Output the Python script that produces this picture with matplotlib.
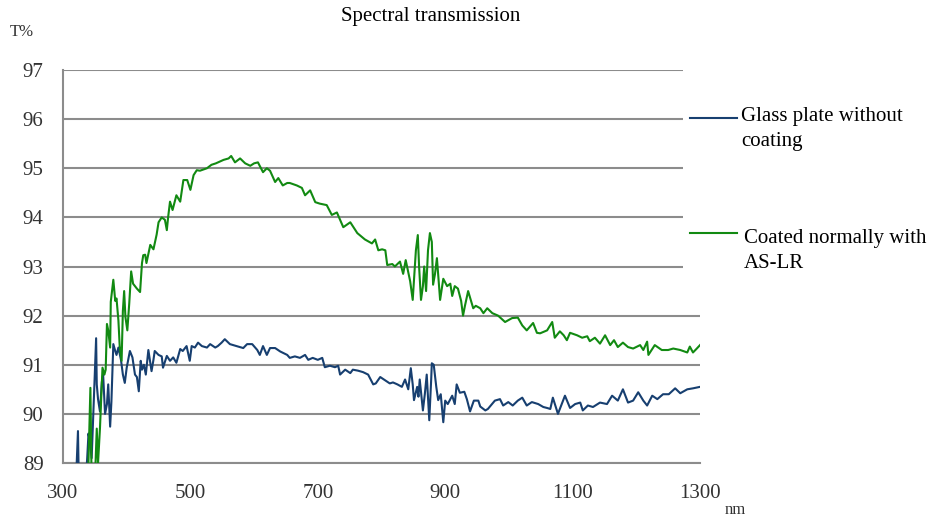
import matplotlib
matplotlib.use("Agg")
import matplotlib.pyplot as plt
from matplotlib.lines import Line2D
from matplotlib.patches import Rectangle

plt.rcParams['font.family'] = ['Liberation Serif', 'DejaVu Serif']

title = "Spectral transmission"
y_label = "T%"
x_label = "nm"
series_names = ["Glass plate without\ncoating", "Coated normally with\nAS-LR"]
x_ticks = [300, 500, 700, 900, 1100, 1300]
y_ticks = [89, 90, 91, 92, 93, 94, 95, 96, 97]

glass_nm = [320, 323.5, 325, 336, 338, 340, 342, 345, 349, 352, 353, 355, 358, 361, 363,
            366, 369, 371, 374, 376, 379, 382, 384, 387, 391, 394, 397, 400, 405, 409,
            413, 416, 419, 422, 424, 427, 430, 434, 439, 442, 444, 450, 455, 457, 463,
            468, 473, 478, 484, 488, 494, 499, 502, 507, 512, 518, 526, 531, 539, 543,
            549, 554, 562, 567, 575, 583, 589, 597, 605, 609, 614, 620, 625, 633, 641,
            652, 656, 664, 672, 680, 685, 692, 700, 707, 711, 719, 727, 732, 735, 743,
            751, 755, 763, 771, 779, 787, 791, 798, 806, 813, 818, 825, 832, 837, 842,
            846, 849, 851, 856, 858, 860, 865, 868, 871, 875, 878, 879, 882, 886, 889,
            893, 897, 900, 904, 911, 915, 918, 923, 930, 934, 939, 945, 952, 955, 963,
            967, 978, 986, 991, 999, 1006, 1014, 1021, 1028, 1036, 1046, 1054, 1060, 1065,
            1069, 1077, 1083, 1088, 1096, 1104, 1112, 1116, 1124, 1132, 1143, 1154, 1162,
            1171, 1179, 1187, 1195, 1203, 1211, 1217, 1225, 1233, 1242, 1251, 1261, 1269,
            1280, 1289, 1300]
glass_T = [88.5, 89.65, 88.5, 88.7, 89.1, 89.6, 89.45, 89.1, 90.5, 91.54, 90.6, 90.3, 90.05, 90.65, 90.8,
           90.0, 90.2, 90.6, 89.74, 90.25, 91.42, 91.28, 91.2, 91.35, 91.1, 90.8, 90.63, 90.94, 91.28, 91.15,
           90.8, 90.75, 90.46, 91.08, 90.9, 91.0, 90.8, 91.3, 90.87, 91.1, 91.28, 91.2, 91.17, 90.94, 91.18,
           91.08, 91.15, 91.04, 91.32, 91.28, 91.38, 91.08, 91.38, 91.35, 91.45, 91.38, 91.35, 91.42, 91.35, 91.38,
           91.45, 91.52, 91.42, 91.4, 91.37, 91.34, 91.42, 91.42, 91.3, 91.2, 91.38, 91.2, 91.34, 91.34, 91.27,
           91.2, 91.14, 91.17, 91.14, 91.2, 91.1, 91.14, 91.1, 91.14, 90.95, 90.98, 90.95, 90.98, 90.8, 90.9,
           90.83, 90.9, 90.88, 90.85, 90.8, 90.6, 90.62, 90.75, 90.68, 90.62, 90.64, 90.6, 90.55, 90.7, 90.5,
           90.93, 90.6, 90.28, 90.55, 90.35, 90.7, 90.07, 90.4, 90.8, 89.87, 90.7, 91.03, 91.0, 90.55, 90.28,
           90.4, 89.83, 90.27, 90.2, 90.37, 90.2, 90.6, 90.43, 90.45, 90.3, 90.05, 90.27, 90.27, 90.15, 90.07,
           90.1, 90.27, 90.3, 90.17, 90.24, 90.17, 90.27, 90.33, 90.17, 90.24, 90.2, 90.14, 90.12, 90.1,
           90.33, 90.0, 90.2, 90.37, 90.12, 90.2, 90.23, 90.07, 90.17, 90.14, 90.23, 90.2, 90.37,
           90.27, 90.5, 90.23, 90.27, 90.44, 90.27, 90.17, 90.37, 90.3, 90.4, 90.4, 90.52, 90.42,
           90.5, 90.52, 90.55]

coated_nm = [339, 343, 345, 350, 353, 355, 358, 361, 362, 365, 367, 369, 371, 374, 375,
             379, 382, 384, 387, 389, 392, 394, 396, 398, 401, 404, 407, 410, 416, 421,
             424, 426, 429, 431, 437, 442, 447, 450, 455, 460, 463, 465, 468, 472, 478,
             484, 489, 495, 500, 505, 510, 515, 526, 533, 540, 552, 560, 564, 570, 578,
             586, 594, 600, 606, 614, 620, 625, 633, 638, 645, 652, 656, 667, 675, 680,
             688, 696, 703, 714, 722, 730, 740, 751, 762, 774, 785, 790, 795, 801, 806,
             809, 817, 821, 829, 834, 838, 845, 849, 854, 857, 859, 862, 865, 867, 870,
             873, 876, 879, 881, 884, 887, 892, 897, 903, 908, 911, 915, 920, 925, 928,
             931, 936, 944, 948, 955, 960, 966, 974, 983, 994, 1005, 1014, 1021, 1028,
             1038, 1044, 1049, 1060, 1068, 1072, 1080, 1086, 1091, 1096, 1107, 1115, 1123,
             1127, 1135, 1143, 1151, 1159, 1165, 1171, 1179, 1187, 1195, 1206, 1211, 1217,
             1219, 1229, 1240, 1250, 1258, 1269, 1280, 1284, 1289, 1295, 1300]
coated_T = [88.5, 90.53, 88.6, 88.6, 89.7, 89.0, 89.7, 90.6, 90.94, 90.8, 90.9, 91.83, 91.7, 91.35, 92.28,
            92.73, 92.3, 92.35, 91.9, 91.38, 91.08, 92.1, 92.5, 91.97, 91.7, 92.25, 92.9, 92.65, 92.55, 92.48,
            93.07, 93.23, 93.24, 93.07, 93.44, 93.35, 93.65, 93.9, 94.0, 93.95, 93.74, 94.0, 94.32, 94.15, 94.45,
            94.32, 94.76, 94.76, 94.56, 94.86, 94.96, 94.95, 95.0, 95.07, 95.1, 95.17, 95.2, 95.25, 95.12, 95.2,
            95.1, 95.05, 95.1, 95.12, 94.92, 95.0, 94.95, 94.72, 94.8, 94.65, 94.7, 94.7, 94.65, 94.6, 94.45,
            94.55, 94.31, 94.28, 94.25, 94.05, 94.1, 93.8, 93.9, 93.68, 93.55, 93.47, 93.55, 93.33, 93.35, 93.33,
            93.03, 93.05, 93.0, 93.1, 92.85, 93.13, 92.7, 92.32, 93.33, 93.64, 93.0, 92.32, 92.6, 93.0, 92.5,
            93.33, 93.68, 93.5, 92.63, 92.85, 93.17, 92.32, 92.75, 92.6, 92.65, 92.4, 92.6, 92.55, 92.3, 92.0,
            92.2, 92.5, 92.15, 92.2, 92.15, 92.05, 92.15, 92.05, 92.0, 91.87, 91.95, 91.96, 91.8, 91.7,
            91.85, 91.65, 91.64, 91.7, 91.87, 91.55, 91.68, 91.6, 91.5, 91.65, 91.6, 91.55, 91.58,
            91.48, 91.55, 91.43, 91.6, 91.4, 91.5, 91.36, 91.45, 91.36, 91.33, 91.4, 91.3, 91.47,
            91.2, 91.4, 91.3, 91.3, 91.33, 91.3, 91.25, 91.37, 91.25, 91.33, 91.4]

blue = "#173F70"
green = "#128A12"
grid_col = "#8C8C8C"
text_col = "#333333"

fig = plt.figure(figsize=(9.31, 5.17), dpi=100)
ax = fig.add_axes([63 / 931, 1 - 463 / 517, (700 - 63) / 931, (463 - 70) / 517])

ax.plot(glass_nm, glass_T, color=blue, lw=1.5, zorder=3)
ax.plot(coated_nm, coated_T, color=green, lw=1.5, zorder=3)

ax.set_xlim(300, 1300)
ax.set_ylim(89, 97)
ax.set_xticks(x_ticks)
ax.set_yticks(y_ticks)
ax.tick_params(axis='both', length=0, labelsize=15, colors=text_col)
ax.tick_params(axis='x', pad=15)
ax.tick_params(axis='y', pad=14)
ax.grid(axis='y', color=grid_col, lw=1.5)
ax.set_axisbelow(True)
for s in ['top', 'right']:
    ax.spines[s].set_visible(False)
for s in ['left', 'bottom']:
    ax.spines[s].set_color(grid_col)
    ax.spines[s].set_linewidth(1.5)

# white legend area covering the grid ends
fig.add_artist(Rectangle((683 / 931, 1 - 290 / 517), 60 / 931, 235 / 517,
                         transform=fig.transFigure, facecolor='white', edgecolor='none', zorder=1))

# legend
for (yl, col, name, xt, yt) in [(118, blue, series_names[0], 741, 107),
                                (233, green, series_names[1], 744, 229)]:
    fig.add_artist(Line2D([690 / 931, 737 / 931], [1 - yl / 517, 1 - yl / 517],
                          transform=fig.transFigure, color=col, lw=1.5, zorder=2))
    fig.text(xt / 931, 1 - yt / 517, name, fontsize=15, color='black',
             va='top', ha='left', linespacing=1.42)

fig.text(431 / 931, 1 - 17 / 517, title, fontsize=15, ha='center', va='center', color='black')
fig.text(22 / 931, 1 - 32 / 517, y_label, fontsize=12, ha='center', va='center', color=text_col)
fig.text(735 / 931, 1 - 510 / 517, x_label, fontsize=12, ha='center', va='center', color=text_col)

fig.savefig("out.png", dpi=100)
